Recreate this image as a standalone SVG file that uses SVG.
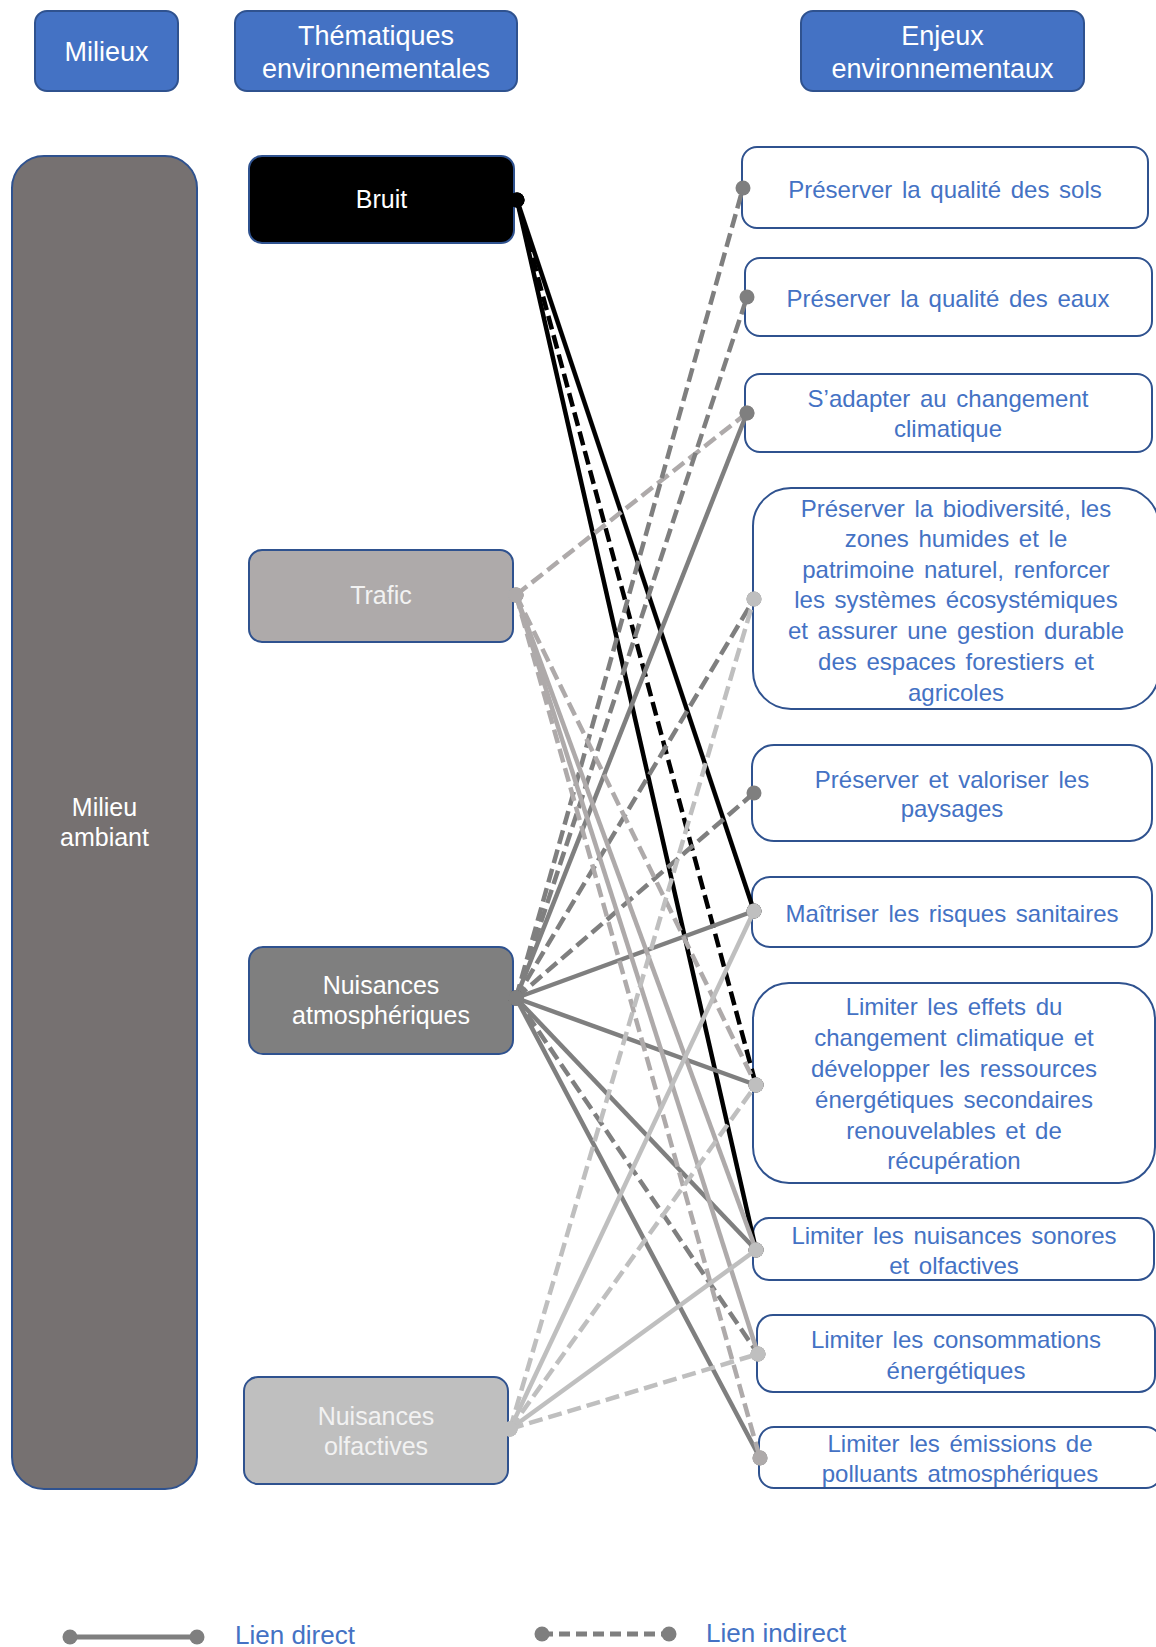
<svg xmlns="http://www.w3.org/2000/svg" width="1156" height="1647" viewBox="0 0 1156 1647">
<style>
text{font-family:"Liberation Sans",Arial,sans-serif;text-anchor:middle}
.hdr rect{fill:#4472c4;stroke:#2f528f;stroke-width:2}
.hdr text{font-size:27px;fill:#fff}
.th rect{stroke:#2f528f;stroke-width:2}
.th text{font-size:25px;fill:#fff}
.en rect{fill:#fff;stroke:#2f528f;stroke-width:2}
.en text{font-size:24px;fill:#4472c4;word-spacing:3px}
.c{fill:none;stroke-width:4.5}
.d{stroke-dasharray:14 6}
.k{stroke:#000;marker-start:url(#mk);marker-end:url(#mk)}
.t{stroke:#aeaaaa;marker-start:url(#mt);marker-end:url(#mt)}
.a{stroke:#7f7f7f;marker-start:url(#ma);marker-end:url(#ma)}
.o{stroke:#bfbfbf;marker-start:url(#mo);marker-end:url(#mo)}
.lg{font-size:26px;fill:#4472c4;text-anchor:start}
</style>
<defs>
<marker id="mk" markerUnits="userSpaceOnUse" markerWidth="18" markerHeight="18" refX="9" refY="9"><circle cx="9" cy="9" r="7.5" fill="#000"/></marker>
<marker id="mt" markerUnits="userSpaceOnUse" markerWidth="18" markerHeight="18" refX="9" refY="9"><circle cx="9" cy="9" r="7.5" fill="#aeaaaa"/></marker>
<marker id="ma" markerUnits="userSpaceOnUse" markerWidth="18" markerHeight="18" refX="9" refY="9"><circle cx="9" cy="9" r="7.5" fill="#7f7f7f"/></marker>
<marker id="mo" markerUnits="userSpaceOnUse" markerWidth="18" markerHeight="18" refX="9" refY="9"><circle cx="9" cy="9" r="7.5" fill="#bfbfbf"/></marker>
</defs>
<rect width="1156" height="1647" fill="#fff"/>

<g id="hdr-milieux" class="hdr"><rect x="35" y="11" width="143" height="80" rx="12"/><text x="106.5" y="61">Milieux</text></g>
<g id="hdr-thematiques" class="hdr"><rect x="235" y="11" width="282" height="80" rx="12"/><text x="376" y="45">Thématiques</text><text x="376" y="78">environnementales</text></g>
<g id="hdr-enjeux" class="hdr"><rect x="801" y="11" width="283" height="80" rx="12"/><text x="942.5" y="45">Enjeux</text><text x="942.5" y="78">environnementaux</text></g>

<g id="milieu-ambiant" class="th"><rect x="12" y="156" width="185" height="1333" rx="32" fill="#767171"/><text x="104.5" y="816">Milieu</text><text x="104.5" y="846">ambiant</text></g>

<g id="bruit" class="th"><rect x="249" y="156" width="265" height="87" rx="13" fill="#000"/><text x="381.5" y="208">Bruit</text></g>
<g id="trafic" class="th"><rect x="249" y="550" width="264" height="92" rx="13" fill="#aeaaaa"/><text x="381" y="604" style="fill:#f2f2f2">Trafic</text></g>
<g id="nuisances-atmo" class="th"><rect x="249" y="947" width="264" height="107" rx="14" fill="#7f7f7f"/><text x="381" y="994">Nuisances</text><text x="381" y="1024">atmosphériques</text></g>
<g id="nuisances-olf" class="th"><rect x="244" y="1377" width="264" height="107" rx="14" fill="#bfbfbf"/><text x="376" y="1425" style="fill:#f2f2f2">Nuisances</text><text x="376" y="1455" style="fill:#f2f2f2">olfactives</text></g>

<g id="e1" class="en"><rect x="742" y="147" width="406" height="81" rx="15"/><text x="945" y="198">Préserver la qualité des sols</text></g>
<g id="e2" class="en"><rect x="745" y="258" width="407" height="78" rx="15"/><text x="948" y="307">Préserver la qualité des eaux</text></g>
<g id="e3" class="en"><rect x="745" y="374" width="407" height="78" rx="15"/><text x="948" y="407">S’adapter au changement</text><text x="948" y="437">climatique</text></g>
<g id="e4" class="en"><rect x="753" y="488" width="406" height="221" rx="38"/><text x="956" y="517">Préserver la biodiversité, les</text><text x="956" y="547">zones humides et le</text><text x="956" y="578">patrimoine naturel, renforcer</text><text x="956" y="608">les systèmes écosystémiques</text><text x="956" y="639">et assurer une gestion durable</text><text x="956" y="670">des espaces forestiers et</text><text x="956" y="701">agricoles</text></g>
<g id="e5" class="en"><rect x="752" y="745" width="400" height="96" rx="22"/><text x="952" y="788">Préserver et valoriser les</text><text x="952" y="817">paysages</text></g>
<g id="e6" class="en"><rect x="752" y="877" width="400" height="70" rx="18"/><text x="952" y="922">Maîtriser les risques sanitaires</text></g>
<g id="e7" class="en"><rect x="753" y="983" width="402" height="200" rx="36"/><text x="954" y="1015">Limiter les effets du</text><text x="954" y="1046">changement climatique et</text><text x="954" y="1077">développer les ressources</text><text x="954" y="1108">énergétiques secondaires</text><text x="954" y="1139">renouvelables et de</text><text x="954" y="1169">récupération</text></g>
<g id="e8" class="en"><rect x="753" y="1218" width="401" height="62" rx="16"/><text x="954" y="1244">Limiter les nuisances sonores</text><text x="954" y="1274">et olfactives</text></g>
<g id="e9" class="en"><rect x="757" y="1315" width="398" height="77" rx="16"/><text x="956" y="1348">Limiter les consommations</text><text x="956" y="1379">énergétiques</text></g>
<g id="e10" class="en"><rect x="759" y="1427" width="402" height="61" rx="15"/><text x="960" y="1452">Limiter les émissions de</text><text x="960" y="1482">polluants atmosphériques</text></g>

<g id="connectors">
<line class="c k" x1="517" y1="200" x2="754" y2="911"/>
<line class="c k" x1="517" y1="200" x2="756" y2="1250"/>
<line class="c k d" x1="517" y1="200" x2="756" y2="1085"/>
<line class="c t d" x1="516" y1="595" x2="747" y2="413"/>
<line class="c a d" x1="516" y1="998" x2="743" y2="188"/>
<line class="c a d" x1="516" y1="998" x2="747" y2="297"/>
<line class="c a" x1="516" y1="998" x2="747" y2="413"/>
<line class="c a d" x1="516" y1="998" x2="754" y2="599"/>
<line class="c a d" x1="516" y1="998" x2="754" y2="793"/>
<line class="c a" x1="516" y1="998" x2="754" y2="911"/>
<line class="c a" x1="516" y1="998" x2="756" y2="1085"/>
<line class="c a" x1="516" y1="998" x2="756" y2="1250"/>
<line class="c a d" x1="516" y1="998" x2="758" y2="1354"/>
<line class="c a" x1="516" y1="998" x2="760" y2="1458"/>
<line class="c t d" x1="516" y1="595" x2="756" y2="1085"/>
<line class="c t" x1="516" y1="595" x2="756" y2="1250"/>
<line class="c t" x1="516" y1="595" x2="758" y2="1354"/>
<line class="c t d" x1="516" y1="595" x2="760" y2="1458"/>
<line class="c o d" x1="510" y1="1429" x2="754" y2="599"/>
<line class="c o" x1="510" y1="1429" x2="754" y2="911"/>
<line class="c o d" x1="510" y1="1429" x2="756" y2="1085"/>
<line class="c o" x1="510" y1="1429" x2="756" y2="1250"/>
<line class="c o d" x1="510" y1="1429" x2="758" y2="1354"/>
</g>

<g id="legend">
<line x1="70" y1="1637" x2="197" y2="1637" stroke="#7f7f7f" stroke-width="5" marker-start="url(#ma)" marker-end="url(#ma)"/>
<text class="lg" x="235" y="1644">Lien direct</text>
<line x1="542" y1="1634" x2="669" y2="1634" stroke="#7f7f7f" stroke-width="5" stroke-dasharray="11 6" marker-start="url(#ma)" marker-end="url(#ma)"/>
<text class="lg" x="706" y="1642">Lien indirect</text>
</g>
</svg>
